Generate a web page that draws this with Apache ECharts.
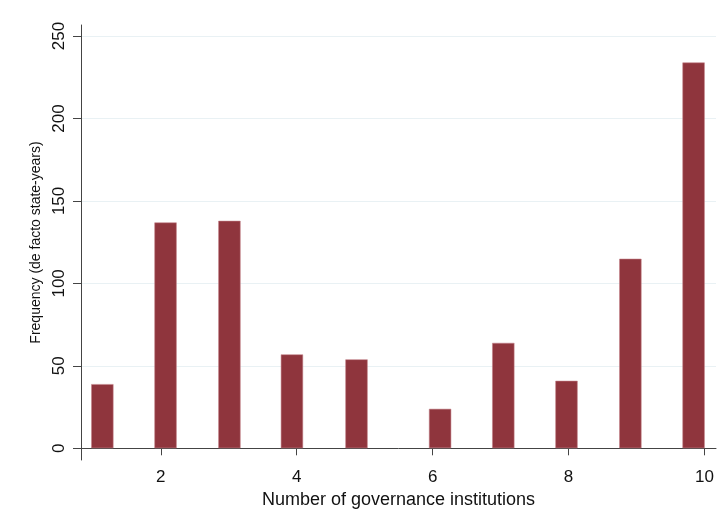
<!DOCTYPE html>
<html>
<head>
<meta charset="utf-8">
<script src="https://cdn.jsdelivr.net/npm/echarts@6/dist/echarts.min.js"></script>
<style>
  html, body { margin: 0; padding: 0; background: #ffffff; }
  #chart { width: 723px; height: 527px; }
</style>
</head>
<body>
<div id="chart"></div>
<script>
// Histogram bins: centre of each bar on the x scale and its frequency
const binCenters = [1.14, 2.07, 3.01, 3.93, 4.88, 6.11, 7.04, 7.97, 8.91, 9.84];
const frequencies = [39, 137, 138, 57, 54, 24, 64, 41, 115, 234];

// Axis ticks
const xTicks = [2, 4, 6, 8, 10];
const yTicks = [0, 50, 100, 150, 200, 250];

const xTitle = 'Number of governance institutions';
const yTitle = 'Frequency (de facto state-years)';

const FONT = '"Liberation Sans", Helvetica, Arial, sans-serif';
const BAR = '#8f353d';

const chart = echarts.init(document.getElementById('chart'), null, { renderer: 'canvas' });

chart.setOption({
  backgroundColor: '#ffffff',
  animation: false,
  grid: { left: 81, right: 7, top: 25, bottom: 67, containLabel: false },
  xAxis: {
    type: 'value',
    min: 0.826,
    max: 10.17,
    name: xTitle,
    nameLocation: 'middle',
    nameGap: 28,
    nameTextStyle: { fontFamily: FONT, fontSize: 18, color: '#111' },
    axisLine: { show: true, lineStyle: { color: '#444', width: 1 } },
    axisTick: { show: true, length: 7, customValues: xTicks, lineStyle: { color: '#444' } },
    axisLabel: { customValues: xTicks, margin: 9, fontFamily: FONT, fontSize: 17, color: '#111' },
    splitLine: { show: false }
  },
  yAxis: {
    type: 'value',
    min: -7.09,
    max: 256.67,
    name: yTitle,
    nameLocation: 'middle',
    nameGap: 30,
    nameTextStyle: { fontFamily: FONT, fontSize: 14, color: '#111' },
    axisLine: { show: true, lineStyle: { color: '#444', width: 1 } },
    axisTick: { show: true, length: 8, customValues: yTicks, lineStyle: { color: '#444' } },
    axisLabel: { customValues: yTicks, rotate: 90, margin: 13, fontFamily: FONT, fontSize: 17, color: '#111' },
    splitLine: { show: true, lineStyle: { color: '#e9f1f4', width: 1.2 } }
  },
  series: [{
    type: 'bar',
    data: binCenters.map((c, i) => [c, frequencies[i]]),
    barWidth: 22.5,
    itemStyle: { color: BAR, borderColor: 'rgba(196,130,136,0.7)', borderWidth: 0.8 },
    silent: true
  }]
});
</script>
</body>
</html>
